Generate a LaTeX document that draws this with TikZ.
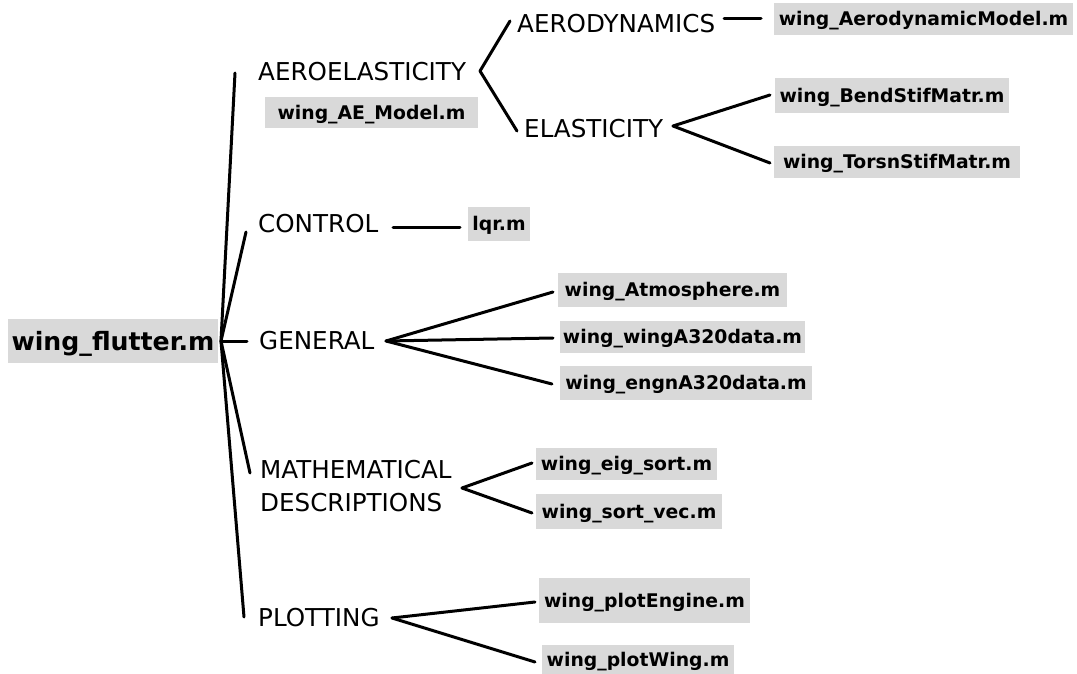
\documentclass[tikz,border=0pt]{standalone}
\usepackage{fontspec}
\setmainfont{DejaVu Sans}
\definecolor{boxgray}{RGB}{217,217,217}
\begin{document}
\begin{tikzpicture}[x=1pt,y=-1pt,
  file/.style={fill=boxgray, font=\bfseries\fontsize{18.8}{22}\selectfont, inner sep=0pt, anchor=center, text height=13.7pt, text depth=0pt},
  rootfile/.style={file, font=\bfseries\fontsize{25.2}{28}\selectfont, text height=18.4pt},
  cat/.style={font=\fontsize{24.6}{33}\selectfont, anchor=west, inner sep=0pt, align=left},
  link/.style={line width=3pt, line cap=round}]
\useasboundingbox (0,0) rectangle (1077,674);

% file boxes
\node[rootfile, minimum width=210, minimum height=44] (root) at (113,341) {wing\_flutter.m};
\node[file, minimum width=213, minimum height=31] (ae) at (371.5,112.5) {wing\_AE\_Model.m};
\node[file, minimum width=62, minimum height=34] (lqr) at (499,224) {lqr.m};
\node[file, minimum width=299, minimum height=32] (aeromod) at (923.5,19) {wing\_AerodynamicModel.m};
\node[file, minimum width=234, minimum height=35] (bend) at (892,95.5) {wing\_BendStifMatr.m};
\node[file, minimum width=246, minimum height=32] (torsn) at (897,162) {wing\_TorsnStifMatr.m};
\node[file, minimum width=229, minimum height=34] (atm) at (672.5,290) {wing\_Atmosphere.m};
\node[file, minimum width=245, minimum height=32] (winga) at (682.5,337) {wing\_wingA320data.m};
\node[file, minimum width=252, minimum height=34] (engn) at (686,383) {wing\_engnA320data.m};
\node[file, minimum width=181, minimum height=32] (eig) at (626.5,464) {wing\_eig\_sort.m};
\node[file, minimum width=186, minimum height=35] (sortvec) at (629,511.5) {wing\_sort\_vec.m};
\node[file, minimum width=211, minimum height=45] (plteng) at (644.5,600.5) {wing\_plotEngine.m};
\node[file, minimum width=192, minimum height=30] (pltwing) at (638,660) {wing\_plotWing.m};

% category labels
\node[cat] (aeroel) at (258,72) {AEROELASTICITY};
\node[cat] (aerody) at (517,24) {AERODYNAMICS};
\node[cat] (elast) at (524,129) {ELASTICITY};
\node[cat] (control) at (258,224) {CONTROL};
\node[cat] (general) at (259,341) {GENERAL};
\node[cat] (math) at (260,486) {MATHEMATICAL\\DESCRIPTIONS};
\node[cat] (plot) at (258,618) {PLOTTING};

% connector end points
\coordinate (r0) at (221,341);
\coordinate (r1) at (235,73);
\coordinate (r2) at (246,232);
\coordinate (r3) at (247,341);
\coordinate (r4) at (250,473);
\coordinate (r5) at (244,617);

\coordinate (a0) at (480,71);
\coordinate (a1) at (510,21);
\coordinate (a2) at (517,131);

\coordinate (d0) at (724,19);
\coordinate (d1) at (761,19);

\coordinate (e0) at (673,126);
\coordinate (e1) at (770,95);
\coordinate (e2) at (770,163);

\coordinate (c0) at (393,227);
\coordinate (c1) at (460,227);

\coordinate (g0) at (386,341);
\coordinate (g1) at (553,292);
\coordinate (g2) at (553,338);
\coordinate (g3) at (552,384);

\coordinate (m0) at (462,488);
\coordinate (m1) at (532,463);
\coordinate (m2) at (532,513);

\coordinate (p0) at (392,618);
\coordinate (p1) at (535,602);
\coordinate (p2) at (535,662);

% connectors
\foreach \t in {r1,r2,r3,r4,r5} \draw[link] (r0) -- (\t);
\foreach \t in {a1,a2} \draw[link] (a0) -- (\t);
\draw[link] (d0) -- (d1);
\foreach \t in {e1,e2} \draw[link] (e0) -- (\t);
\draw[link] (c0) -- (c1);
\foreach \t in {g1,g2,g3} \draw[link] (g0) -- (\t);
\foreach \t in {m1,m2} \draw[link] (m0) -- (\t);
\foreach \t in {p1,p2} \draw[link] (p0) -- (\t);
\end{tikzpicture}
\end{document}
